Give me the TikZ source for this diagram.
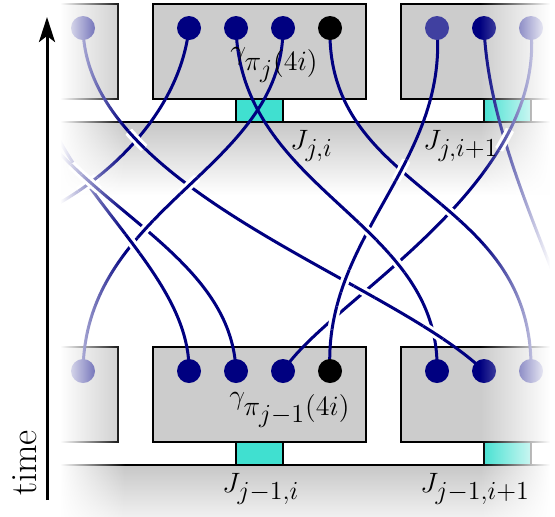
\RequirePackage{fix-cm}
\documentclass[tikz,border=0pt]{standalone}
\usetikzlibrary{arrows.meta,intersections,fadings}
\definecolor{navy}{RGB}{0,0,128}
\definecolor{boxgray}{RGB}{204,204,204}
\definecolor{turq}{RGB}{64,224,208}
\DeclareMathSizes{14}{14}{13}{11}
\tikzfading[name=fadeleft, left color=transparent!0, right color=transparent!100]
\tikzfading[name=faderight, left color=transparent!100, right color=transparent!0]

% redraw the upper strand of a crossing with a white gap round it
\newcommand{\overpass}[3]{%
  \path[name intersections={of=#1 and #2, by=cr}];
  \begin{scope}
    \clip (cr) circle (12);
    \draw[wire, halo] #3;
  \end{scope}}

% strands
\def\pWzero{(ta) .. controls (86,190) and (390,280) .. (br2)}
\def\pWone{(t1) .. controls (180,110) and (110,180) .. (w1end)}
\def\pWtwo{(t2) .. controls (241,193) and (441,221) .. (br1)}
\def\pWthree{(t3) .. controls (283,170) and (85,205) .. (ba)}
\def\pWfour{(t4) .. controls (326,195) and (534,192) .. (br3)}
\def\pRone{(tr1) .. controls (448,164) and (323,236) .. (b4)}
\def\pRtwo{(tr2) .. controls (488,110) and (520,190) .. (r2end)}
\def\pRthree{(tr3) .. controls (546,188) and (329,300) .. (b3)}
\def\pLone{(l1start) .. controls (115,220) and (232,268) .. (b2)}
\def\pLtwo{(l2start) .. controls (95,215) and (190,285) .. (b1)}

\begin{document}
\begin{tikzpicture}[x=0.5pt, y=-0.5pt,
    cell/.style={draw=black, line width=1.4pt, fill=boxgray},
    jbox/.style={draw=black, line width=1.4pt, fill=turq},
    rail/.style={draw=black, line width=1.4pt},
    wire/.style={draw=navy, line width=1.5pt},
    halo/.style={preaction={draw=white, line width=4.5pt}},
    dot/.style={circle, fill=navy, minimum size=12pt, inner sep=0pt},
    lbl/.style={font=\fontsize{14}{16}\selectfont, anchor=base west, inner sep=0pt}
]
\useasboundingbox (0,0) rectangle (555,516);

% dot positions
\foreach \n/\x in {a/83, 1/189, 2/236, 3/283, 4/330, r1/437, r2/484, r3/531} {
    \coordinate (t\n) at (\x,28);
    \coordinate (b\n) at (\x,371);
}
\coordinate (w1end) at (40,213);
\coordinate (r2end) at (560,290);
\coordinate (l1start) at (45,137);
\coordinate (l2start) at (52,126);

\begin{scope}
\clip (52,0) rectangle (555,516);

% shadows under the rails
\shade[top color=black!22, bottom color=white] (40,122) rectangle (555,195);
\shade[top color=black!22, bottom color=white] (40,465) rectangle (555,535);

% boxes, rails and junctions
\foreach \dy in {0,343} {
    \foreach \x in {-95,153,401}
        \draw[cell] (\x,4+\dy) rectangle ++(213,95);
    \draw[rail] (40,122+\dy) -- (555,122+\dy);
    \foreach \x in {236,484}
        \draw[jbox] (\x,99+\dy) rectangle ++(47,23);
}

% strands
\draw[wire, name path=r2] \pRtwo;
\draw[wire, name path=r3] \pRthree;
\draw[wire, name path=w4] \pWfour;
\draw[wire, name path=r1] \pRone;
\draw[wire, name path=w2] \pWtwo;
\draw[wire, name path=w1] \pWone;
\draw[wire, name path=w0] \pWzero;
\draw[wire, name path=l2] \pLtwo;
\draw[wire, name path=l1] \pLone;
\draw[wire, name path=w3] \pWthree;

% crossings
\overpass{w0}{w1}{\pWzero}
\overpass{w3}{w0}{\pWthree}
\overpass{r1}{w0}{\pRone}
\overpass{w0}{r3}{\pWzero}
\overpass{w0}{w2}{\pWzero}
\overpass{w2}{r1}{\pWtwo}
\overpass{w2}{r3}{\pWtwo}
\overpass{r1}{w4}{\pRone}
\overpass{w4}{r3}{\pWfour}
\overpass{r3}{r2}{\pRthree}
\overpass{r1}{r3}{\pRone}
\overpass{w1}{l2}{\pWone}
\overpass{l1}{l2}{\pLone}
\overpass{l1}{w1}{\pLone}
\overpass{w3}{l1}{\pWthree}
\overpass{l2}{w3}{\pLtwo}

% dots
\foreach \p in {ta,t1,t2,t3,tr2,tr3,ba,b1,b2,b3,br1,br2,br3}
    \node[dot] (\p dot) at (\p) {};
\node[dot, fill=navy!75!white] (tr1dot) at (tr1) {};
\node[dot, fill=black] (t4dot) at (t4) {};
\node[dot, fill=black] (b4dot) at (b4) {};

% fade out at both sides
\fill[white] (40,-2) rectangle (60,518);
\fill[white, path fading=fadeleft] (60,-2) rectangle (125,518);
\fill[white, path fading=faderight] (480,-2) rectangle (550,518);
\fill[white] (550,-2) rectangle (560,518);
\end{scope}

% labels
\node[lbl] (gtop) at (230,59) {$\gamma_{\textstyle\pi_j(4i)}$};
\node[lbl] (gbot) at (229,404) {$\gamma_{\textstyle\pi_{j-1}(4i)}$};
\node[lbl] (jtopa) at (290,149) {$J_{j,i}$};
\node[lbl] (jtopb) at (423,149) {$J_{j,i+1}$};
\node[lbl] (jbota) at (222,492) {$J_{j-1,i}$};
\node[lbl] (jbotb) at (420,492) {$J_{j-1,i+1}$};

% time axis
\coordinate (tbase) at (47,500);
\coordinate (ttip) at (47,17);
\draw[line width=1.5pt, -{Stealth[length=12.5pt, width=8pt, inset=3pt]}] (tbase) -- (ttip);
\node[font=\fontsize{18.5}{20}\selectfont, rotate=90] (timelbl) at (25,463) {time};
\end{tikzpicture}
\end{document}
